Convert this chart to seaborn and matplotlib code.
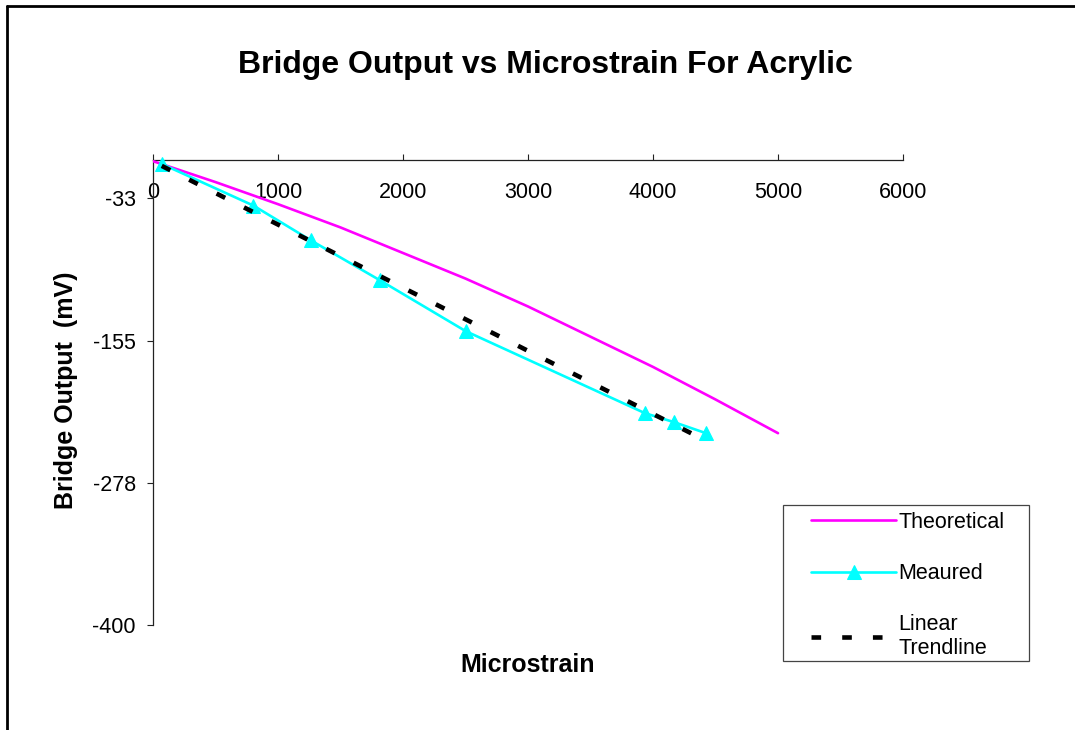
import numpy as np
import pandas as pd
import matplotlib
matplotlib.use("Agg")
import matplotlib.pyplot as plt
import seaborn as sns
from matplotlib.lines import Line2D
from matplotlib.patches import Rectangle
from matplotlib.ticker import FuncFormatter

# ---- data ----
theory_strain = [0, 500, 1000, 1500, 2000, 2500, 3000, 3500, 4000, 4500, 5000]
theory_mv = [-1, -19, -38, -58, -80, -102, -126, -152, -178, -206, -235]

meas_strain = [70, 803, 1264, 1816, 2501, 3936, 4168, 4424]
meas_mv = [-3.4, -39.2, -69.2, -103.5, -147.2, -217.8, -225.5, -235.0]

x_ticks = [0, 1000, 2000, 3000, 4000, 5000, 6000]
y_ticks = [-400, -277.67, -155.33, -33]

labels = ["Theoretical", "Meaured", "Linear\nTrendline"]
title = "Bridge Output vs Microstrain For Acrylic"
x_label = "Microstrain"
y_label = "Bridge Output  (mV)"

# ---- style ----
sns.set_style("white")
plt.rcParams["font.family"] = ["Liberation Sans", "DejaVu Sans"]
plt.rcParams["text.color"] = "black"

W, H = 1075, 730
fig = plt.figure(figsize=(W / 100, H / 100), dpi=100)
fig.patch.set_facecolor("white")
ax = fig.add_axes([153 / W, 1 - 625 / H, 750 / W, 465 / H])

sns.lineplot(x=theory_strain, y=theory_mv, ax=ax, color="#FF00FF", lw=1.9,
             label=labels[0], sort=False, estimator=None, zorder=3)
sns.lineplot(x=meas_strain, y=meas_mv, ax=ax, color="#00FFFF", lw=1.9,
             marker="^", markersize=10, markeredgecolor="#00FFFF",
             label=labels[1], sort=False, estimator=None, clip_on=False, zorder=4)
sns.regplot(x=meas_strain, y=meas_mv, ax=ax, scatter=False, ci=None, truncate=True,
            color="black", label=labels[2],
            line_kws=dict(lw=3.3, dashes=(2.1, 4.6), dash_capstyle="butt", zorder=5))

ax.set_xlim(0, 6000)
ax.set_ylim(-400, 0)
ax.set_xticks(x_ticks)
ax.set_yticks(y_ticks)
ax.yaxis.set_major_formatter(FuncFormatter(lambda v, p: f"{v:.0f}"))
ax.set_xlabel("")
ax.set_ylabel("")

for s in ["right", "top"]:
    ax.spines[s].set_visible(False)
ax.spines["bottom"].set_position(("data", 0))
for s in ["left", "bottom"]:
    ax.spines[s].set_color("#222222")
    ax.spines[s].set_linewidth(0.9)

ax.tick_params(axis="x", direction="in", bottom=True, length=4.3, width=0.8,
               pad=15.5, labelsize=15.5, colors="#222222", labelcolor="black")
ax.tick_params(axis="y", direction="out", left=True, length=4.3, width=0.8,
               pad=8, labelsize=15.5, colors="#222222", labelcolor="black")

# legend
handles, labs = ax.get_legend_handles_labels()
leg = ax.legend(handles, labs, loc="upper left", bbox_to_anchor=(811 / W, 1 - 512 / H),
                bbox_transform=fig.transFigure, frameon=False, borderpad=0, borderaxespad=0,
                handlelength=3.95, handletextpad=0.1, labelspacing=1.4, fontsize=15.5)
for t in leg.get_texts():
    t.set_linespacing(1.15)
fig.add_artist(Rectangle((783 / W, 1 - 661 / H), 246 / W, 156 / H,
                         transform=fig.transFigure, fill=False,
                         edgecolor="#444444", lw=0.9))

# texts
fig.text(545.5 / W, 1 - 73 / H, title, ha="center", va="baseline",
         fontsize=23, fontweight="bold")
fig.text(528 / W, 1 - 672 / H, x_label, ha="center", va="baseline",
         fontsize=18, fontweight="bold")
fig.text(66 / W, 1 - 390 / H, y_label, ha="center", va="center", rotation=90,
         fontsize=18, fontweight="bold")

# outer chart border (left and top)
fig.add_artist(Line2D([7.3 / W, 7.3 / W], [0, 1 - 6.2 / H], color="black", lw=2.0,
                      transform=fig.transFigure))
fig.add_artist(Line2D([7.3 / W, 1], [1 - 6.2 / H, 1 - 6.2 / H], color="black", lw=2.0,
                      transform=fig.transFigure))

fig.savefig("out.png", dpi=100)
